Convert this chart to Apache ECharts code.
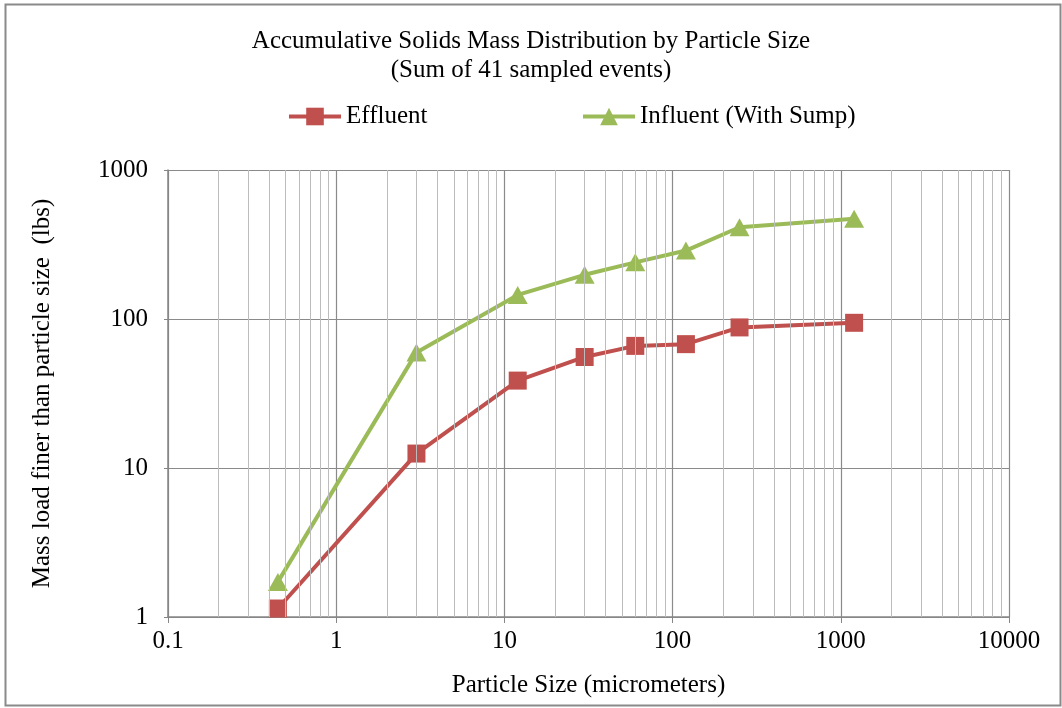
<!DOCTYPE html>
<html>
<head>
<meta charset="utf-8">
<script src="https://cdn.jsdelivr.net/npm/echarts@6/dist/echarts.min.js"></script>
<style>
  html, body { margin: 0; padding: 0; background: #fff; }
  #chart { width: 1062px; height: 708px; }
</style>
</head>
<body>
<div id="chart"></div>
<script>
// Particle size (micrometers) and cumulative mass finer than that size (lbs)
const particleSizes = [0.45, 3, 12, 30, 60, 120, 250, 1200];
const effluent = [1.14, 12.5, 38.6, 55.6, 66, 67.8, 87.8, 94.3];
const influent = [1.72, 59.5, 145, 198, 240, 288, 413, 470];
const seriesNames = ['Effluent', 'Influent (With Sump)'];
const titleLines = ['Accumulative Solids Mass Distribution by Particle Size', '(Sum of 41 sampled events)'];
const xAxisName = 'Particle Size (micrometers)';
const yAxisName = 'Mass load finer than particle size  (lbs)';

const FONT = '"Liberation Serif", "Times New Roman", serif';
const FS = 25;
const RED = '#C0504D';
const GREEN = '#9BBB59';

// Minor vertical gridlines at 2..9 within each decade of the log x axis
const minorX = [];
for (let d = -1; d < 4; d++) {
  for (let m = 2; m <= 9; m++) minorX.push({ xAxis: m * Math.pow(10, d) });
}

const plainNumber = v => String(+v.toPrecision(6));

const chart = echarts.init(document.getElementById('chart'), null, { renderer: 'canvas' });

const pair = (xs, ys) => xs.map((x, i) => [x, ys[i]]);

const legendBase = {
  itemWidth: 52,
  itemHeight: 22,
  itemGap: 4,
  lineStyle: { width: 4 },
  textStyle: { fontFamily: FONT, fontSize: FS, color: '#000' }
};

chart.setOption({
  backgroundColor: '#fff',
  animation: false,
  textStyle: { fontFamily: FONT, color: '#000' },
  title: {
    text: titleLines.join('\n'),
    left: 'center',
    top: 27,
    padding: 0,
    textStyle: { fontFamily: FONT, fontSize: FS, fontWeight: 'normal', color: '#000', lineHeight: 29 }
  },
  legend: [
    Object.assign({ data: [seriesNames[0]], left: 287, top: 104, padding: 0 }, legendBase),
    Object.assign({ data: [seriesNames[1]], left: 581, top: 104, padding: 0 }, legendBase)
  ],
  graphic: [
    {
      type: 'rect',
      shape: { x: 5.5, y: 4.5, width: 1055, height: 701 },
      style: { fill: null, stroke: '#8a8a8a', lineWidth: 2 },
      silent: true
    }
  ],
  grid: { left: 168, right: 53, top: 170, bottom: 91, containLabel: false },
  xAxis: {
    type: 'log',
    logBase: 10,
    min: 0.1,
    max: 10000,
    name: xAxisName,
    nameLocation: 'middle',
    nameGap: 56,
    nameTextStyle: { fontFamily: FONT, fontSize: FS, color: '#000' },
    axisLine: { show: true, lineStyle: { color: '#868686', width: 1.5 } },
    axisTick: { show: true, length: 6, lineStyle: { color: '#868686' } },
    axisLabel: { fontFamily: FONT, fontSize: FS, color: '#000', margin: 12, formatter: plainNumber },
    splitLine: { show: true, lineStyle: { color: '#8a8a8a', width: 1.2 } }
  },
  yAxis: {
    type: 'log',
    logBase: 10,
    min: 1,
    max: 1000,
    name: yAxisName,
    nameLocation: 'middle',
    nameGap: 113,
    nameTextStyle: { fontFamily: FONT, fontSize: FS, color: '#000' },
    axisLine: { show: true, lineStyle: { color: '#868686', width: 1.5 } },
    axisTick: { show: true, length: 4, lineStyle: { color: '#868686' } },
    axisLabel: { fontFamily: FONT, fontSize: FS, color: '#000', margin: 20, formatter: plainNumber },
    splitLine: { show: true, lineStyle: { color: '#8a8a8a', width: 1.2 } }
  },
  series: [
    {
      name: '__minorGrid',
      type: 'line',
      data: [],
      z: 1,
      silent: true,
      markLine: {
        silent: true,
        symbol: ['none', 'none'],
        label: { show: false },
        lineStyle: { color: '#bcbcbc', width: 1, type: 'solid' },
        data: minorX,
        animation: false
      }
    },
    {
      name: seriesNames[0],
      type: 'line',
      data: pair(particleSizes, effluent),
      z: 3,
      color: RED,
      symbol: 'rect',
      symbolSize: 18,
      lineStyle: { width: 4, color: RED },
      itemStyle: { color: RED }
    },
    {
      name: seriesNames[1],
      type: 'line',
      data: pair(particleSizes, influent),
      z: 2,
      color: GREEN,
      symbol: 'triangle',
      symbolSize: [20, 18],
      lineStyle: { width: 4, color: GREEN },
      itemStyle: { color: GREEN }
    }
  ]
});
</script>
</body>
</html>
